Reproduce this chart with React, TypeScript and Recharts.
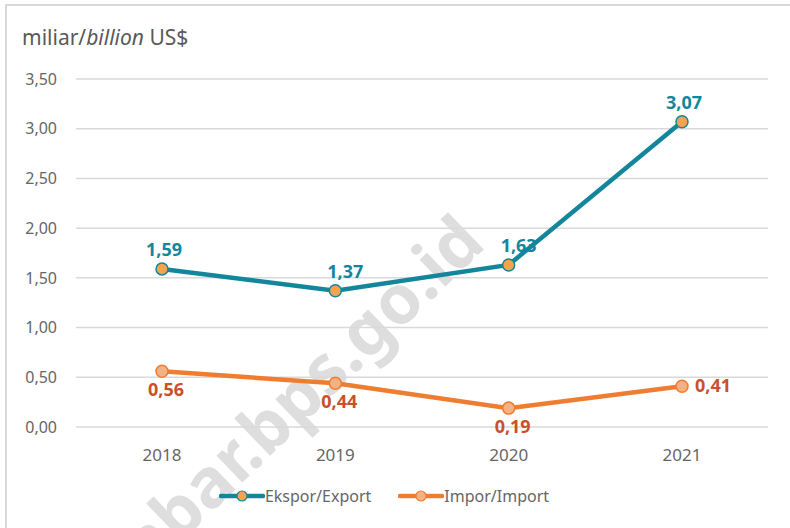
import React from "react";
import {
  LineChart,
  Line,
  XAxis,
  YAxis,
  CartesianGrid,
  Legend,
  LabelList,
} from "recharts";

const years = ["2018", "2019", "2020", "2021"];
const ekspor = [1.59, 1.37, 1.63, 3.07];
const impor = [0.56, 0.44, 0.19, 0.41];
const yTicks = [0, 0.5, 1, 1.5, 2, 2.5, 3, 3.5];

const TEAL = "#14869b";
const ORANGE = "#ef7d31";
const FONT = "'Noto Sans', 'Open Sans', sans-serif";

const data = years.map((y, i) => ({ year: y, ekspor: ekspor[i], impor: impor[i] }));

const fmt = (v: number) => v.toFixed(2).replace(".", ",");

const EksporLabel = (props: any) => {
  const { x, y, value, index } = props;
  const dx = index === 1 || index === 2 ? 10 : 2;
  return (
    <text x={x + dx} y={y - 13} textAnchor="middle" fill={TEAL} fontSize={18} fontWeight={700} fontFamily={FONT}>
      {fmt(value)}
    </text>
  );
};

const ImporLabel = (props: any) => {
  const { x, y, value, index } = props;
  if (index === 3) {
    return (
      <text x={x + 13} y={y + 6} textAnchor="start" fill="#c9502b" fontSize={18} fontWeight={700} fontFamily={FONT}>
        {fmt(value)}
      </text>
    );
  }
  return (
    <text x={x + 4} y={y + 25} textAnchor="middle" fill="#c9502b" fontSize={18} fontWeight={700} fontFamily={FONT}>
      {fmt(value)}
    </text>
  );
};

const legendItems = [
  { name: "Ekspor/Export", stroke: TEAL, fill: "#f7a24f" },
  { name: "Impor/Import", stroke: ORANGE, fill: "#f4b183" },
];

const renderLegend = () => (
  <div style={{ display: "flex", justifyContent: "center", gap: 27, fontFamily: FONT, fontSize: 16, color: "#666" }}>
    {legendItems.map((it) => (
      <div key={it.name} style={{ display: "flex", alignItems: "center" }}>
        <svg width={46} height={14}>
          <line x1={2} y1={7} x2={44} y2={7} stroke={it.stroke} strokeWidth={4.5} strokeLinecap="round" />
          <circle cx={23} cy={7} r={5} fill={it.fill} stroke={it.stroke} strokeWidth={1.2} />
        </svg>
        <span>{it.name}</span>
      </div>
    ))}
  </div>
);

export default function App() {
  return (
    <div style={{ position: "absolute", left: 0, top: 0, width: 790, height: 528, background: "#fff", overflow: "hidden" }}>
      <div
        style={{
          position: "absolute",
          left: 5,
          top: 4,
          width: 800,
          height: 540,
          border: "2px solid #d9d9d9",
          boxSizing: "border-box",
        }}
      />
      <svg width={790} height={528} style={{ position: "absolute", left: 0, top: 0 }}>
        <text
          x={268}
          y={432}
          transform="rotate(-44 268 432)"
          textAnchor="middle"
          dominantBaseline="middle"
          fontFamily={FONT}
          fontWeight={700}
          fontSize={68}
          fill="#dedede"
        >
          sumbar.bps.go.id
        </text>
      </svg>
      <div
        style={{
          position: "absolute",
          left: 22,
          top: 23,
          fontFamily: FONT,
          fontSize: 21,
          color: "#595959",
        }}
      >
        miliar/<i>billion</i> US$
      </div>
      <div style={{ position: "absolute", left: 0, top: 0 }}>
        <LineChart width={790} height={528} data={data} margin={{ top: 79, right: 22, bottom: 19, left: 0 }}>
          <CartesianGrid vertical={false} stroke="#d9d9d9" strokeWidth={1.5} />
          <XAxis
            dataKey="year"
            axisLine={false}
            tickLine={false}
            height={58}
            tickSize={0}
            tickMargin={22}
            padding={{ left: 86, right: 86 }}
            tick={{ fill: "#666", fontSize: 17, fontFamily: FONT }}
          />
          <YAxis
            width={76}
            domain={[0, 3.5]}
            ticks={yTicks}
            axisLine={false}
            tickLine={false}
            tickSize={0}
            tickMargin={19}
            tickFormatter={fmt}
            tick={{ fill: "#666", fontSize: 16, fontFamily: FONT }}
          />
          <Legend verticalAlign="bottom" height={24} content={renderLegend} />
          <Line
            type="linear"
            dataKey="impor"
            name="Impor/Import"
            stroke={ORANGE}
            strokeWidth={4.5}
            dot={{ r: 6, fill: "#f4b183", stroke: ORANGE, strokeWidth: 1.5 }}
            isAnimationActive={false}
          >
            <LabelList dataKey="impor" content={ImporLabel} />
          </Line>
          <Line
            type="linear"
            dataKey="ekspor"
            name="Ekspor/Export"
            stroke={TEAL}
            strokeWidth={4.5}
            dot={{ r: 6, fill: "#f7a24f", stroke: TEAL, strokeWidth: 1.5 }}
            isAnimationActive={false}
          >
            <LabelList dataKey="ekspor" content={EksporLabel} />
          </Line>
        </LineChart>
      </div>
    </div>
  );
}
